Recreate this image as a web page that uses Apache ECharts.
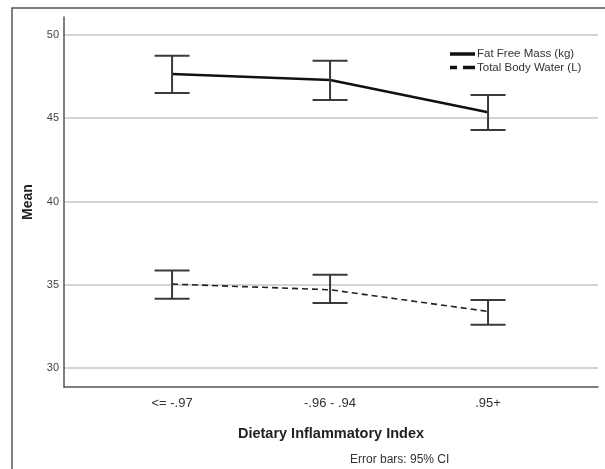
<!DOCTYPE html>
<html><head><meta charset="utf-8">
<script src="https://cdn.jsdelivr.net/npm/echarts@6/dist/echarts.min.js"></script>
<style>html,body{margin:0;padding:0;background:#fff}#c{width:605px;height:469px}</style>
</head><body><div id="c"></div>
<script>
const categories = ['<= -.97', '-.96 - .94', '.95+'];
const ffmMean = [47.66, 47.3, 45.36];
const ffmLow = [46.52, 46.1, 44.3];
const ffmHigh = [48.76, 48.46, 46.4];
const tbwMean = [35.04, 34.7, 33.4];
const tbwLow = [34.16, 33.9, 32.6];
const tbwHigh = [35.86, 35.6, 34.08];
const yTicks = [30, 35, 40, 45, 50];
const seriesNames = ['Fat Free Mass (kg)', 'Total Body Water (L)'];

const font = 'Liberation Sans, Arial, sans-serif';
const chart = echarts.init(document.getElementById('c'), null, {renderer: 'canvas'});

function errData(lo, hi) { return categories.map((c, i) => [i, lo[i], hi[i]]); }
function renderErr(params, api) {
  const x = api.value(0);
  const lo = api.coord([x, api.value(1)]);
  const hi = api.coord([x, api.value(2)]);
  const hw = 17.5;
  const st = {stroke: '#3a3a3a', lineWidth: 2};
  return {type: 'group', children: [
    {type: 'line', shape: {x1: lo[0], y1: lo[1], x2: hi[0], y2: hi[1]}, style: st},
    {type: 'line', shape: {x1: lo[0] - hw, y1: lo[1], x2: lo[0] + hw, y2: lo[1]}, style: st},
    {type: 'line', shape: {x1: hi[0] - hw, y1: hi[1], x2: hi[0] + hw, y2: hi[1]}, style: st}
  ]};
}

chart.setOption({
  animation: false,
  backgroundColor: '#fff',
  grid: {left: 64, right: 7, top: 17, bottom: 82},
  legend: {
    orient: 'vertical', left: 445, top: 43, itemGap: 1.5, itemWidth: 25, itemHeight: 14,
    textStyle: {fontFamily: font, fontSize: 11.5, color: '#333', padding: [0, 0, 0, -3]},
    data: [
      {name: seriesNames[0], icon: 'path://M0,0 L25,0 L25,3.5 L0,3.5 Z'},
      {name: seriesNames[1], icon: 'path://M0,0 L7,0 L7,3.5 L0,3.5 Z M13,0 L25,0 L25,3.5 L13,3.5 Z'}
    ],
    itemStyle: {color: '#111'}
  },
  xAxis: {
    type: 'value', min: -0.684, max: 2.696,
    axisLine: {show: true, onZero: false, lineStyle: {color: '#555', width: 1.5}},
    axisTick: {show: false},
    splitLine: {show: false},
    axisLabel: {customValues: [0, 1, 2], formatter: v => categories[Math.round(v)] || '',
      fontFamily: font, fontSize: 13, color: '#333', margin: 10},
    name: 'Dietary Inflammatory Index', nameLocation: 'middle', nameGap: 39,
    nameTextStyle: {fontFamily: font, fontSize: 14.5, fontWeight: 'bold', color: '#222'}
  },
  yAxis: {
    type: 'value', min: 28.86, max: 51.08,
    axisLine: {show: true, onZero: false, lineStyle: {color: '#555', width: 1.5}},
    axisTick: {show: false},
    splitLine: {show: false},
    axisLabel: {customValues: yTicks, fontFamily: font, fontSize: 11, color: '#444', margin: 5},
    name: 'Mean', nameLocation: 'middle', nameGap: 29,
    nameTextStyle: {fontFamily: font, fontSize: 14, fontWeight: 'bold', color: '#222'}
  },
  series: [
    {
      name: 'grid', type: 'line', data: [], silent: true, z: 0,
      markLine: {silent: true, symbol: 'none', label: {show: false}, z: 0,
        lineStyle: {color: '#d4d4d4', width: 2, type: 'solid'},
        data: yTicks.map(v => ({yAxis: v}))}
    },
    {
      name: seriesNames[0], type: 'line', symbol: 'none',
      data: ffmMean.map((v, i) => [i, v]),
      lineStyle: {color: '#111', width: 2.5}, itemStyle: {color: '#111'}, z: 3
    },
    {
      name: seriesNames[1], type: 'line', symbol: 'none',
      data: tbwMean.map((v, i) => [i, v]),
      lineStyle: {color: '#222', width: 1.6, type: [6, 4]}, itemStyle: {color: '#111'}, z: 3
    },
    {type: 'custom', renderItem: renderErr, data: errData(ffmLow, ffmHigh), encode: {x: 0, y: [1, 2]}, z: 4},
    {type: 'custom', renderItem: renderErr, data: errData(tbwLow, tbwHigh), encode: {x: 0, y: [1, 2]}, z: 4}
  ],
  graphic: [
    {type: 'rect', shape: {x: 12, y: 8, width: 700, height: 600}, style: {fill: null, stroke: '#555', lineWidth: 1.5}, silent: true},
    {type: 'text', left: 350, top: 454, style: {text: 'Error bars: 95% CI', font: '12px ' + font, fill: '#333'}}
  ]
});
</script></body></html>
